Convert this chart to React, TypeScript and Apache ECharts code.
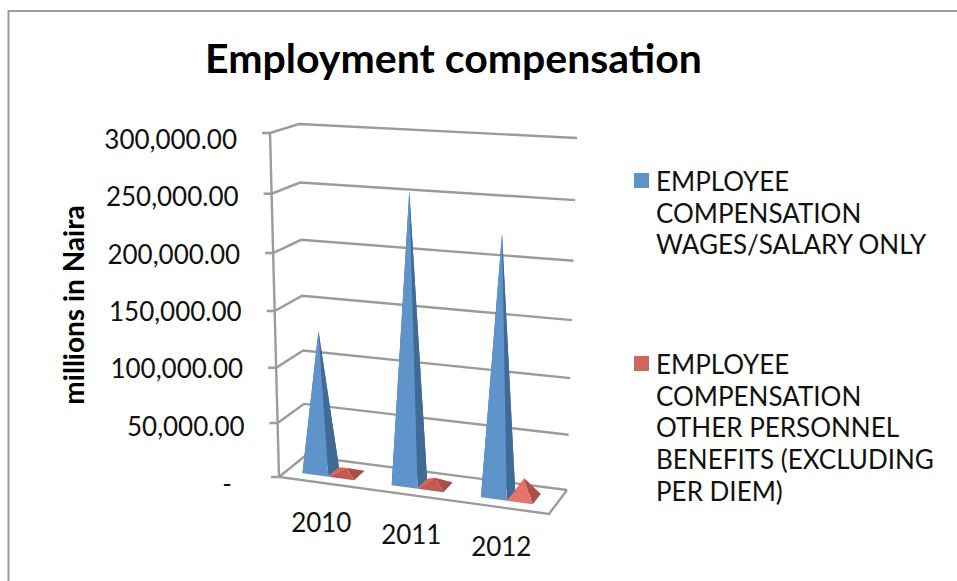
import React, { useEffect, useRef } from "react";
import * as echarts from "echarts";

const titleText = "Employment compensation";
const yAxisTitle = "millions in Naira";
const categories = ["2010", "2011", "2012"];
const wagesName = "EMPLOYEE\nCOMPENSATION\nWAGES/SALARY ONLY";
const benefitsName = "EMPLOYEE\nCOMPENSATION\nOTHER PERSONNEL\nBENEFITS (EXCLUDING\nPER DIEM)";
const wagesValues = [128000, 254000, 224500];
const benefitsValues = [5500, 7000, 17000];
const axisTicks = [0, 50000, 100000, 150000, 200000, 250000, 300000];

const FONT = "Lato";
const BLUE = { legend: "#5F94CB", front: "#5F94CB", right: "#3F6B96", back: "#3F6B96" };
const GRID_COLOR = "#9B9B9B";

// Plot rectangle of the hidden cartesian axes; their pixels are re-projected into the box.
const GRID = { left: 279, top: 133, width: 270, height: 344 };

type P = [number, number];
const BOX = {
  fl0: [279, 477] as P, fr0: [549, 514] as P, bl0: [305, 456] as P, br0: [567, 490] as P,
  fl1: [270, 133] as P, fr1: [557, 148] as P, bl1: [299, 124] as P, br1: [577, 138] as P,
};
const mix = (a: P, b: P, t: number): P => [a[0] + (b[0] - a[0]) * t, a[1] + (b[1] - a[1]) * t];

// Box position: u along the categories, d into the depth, h up the value axis.
const project = (u: number, d: number, h: number): P => {
  const hp = h * (0.93 + 0.07 * h);
  const low = mix(mix(BOX.fl0, BOX.fr0, u), mix(BOX.bl0, BOX.br0, u), d);
  const high = mix(mix(BOX.fl1, BOX.fr1, u), mix(BOX.bl1, BOX.br1, u), d);
  return mix(low, high, hp);
};

const toU = (px: number) => (px - GRID.left) / GRID.width - 0.01;
const toH = (py: number) => (GRID.top + GRID.height - py) / GRID.height;

const lineStyle = { stroke: GRID_COLOR, lineWidth: 2.4, fill: "none" };

// Four-sided pyramid standing on the floor of the box, back faces first.
const pyramid = (
  api: any,
  offset: number,
  faces: { front: string; right: string; back: string }
) => {
  const [px, py] = api.coord([api.value(0), api.value(1)]);
  const halfU = api.size([1, 0])[0] / GRID.width * 0.145;
  const c = toU(px) + offset * halfU * 1;
  const h = toH(py);
  const [d0, d1] = [0.285, 0.715];
  const a = project(c - halfU, d0, 0);
  const b = project(c + halfU, d0, 0);
  const e = project(c + halfU, d1, 0);
  const f = project(c - halfU, d1, 0);
  const tip = project(c, 0.5, h);
  const face = (pts: P[], fill: string) => ({ type: "polygon", shape: { points: pts }, style: { fill } });
  return {
    type: "group",
    children: [
      face([f, e, tip], faces.back),
      face([f, a, tip], faces.back),
      face([b, e, tip], faces.right),
      face([a, b, tip], faces.front),
    ],
  };
};

const redFaces = (value: number) =>
  value > 12000
    ? { front: "#E5736B", right: "#A94F4C", back: "#C65A54" }
    : { front: "#C5584F", right: "#A94F4A", back: "#CC625A" };

function App() {
  const ref = useRef<HTMLDivElement>(null);

  useEffect(() => {
    const chart = echarts.init(ref.current!, null, { renderer: "svg" });
    chart.setOption({
      animation: false,
      backgroundColor: "#FFFFFF",
      title: {
        text: titleText,
        left: 448.5,
        top: 32,
        textAlign: "center",
        textStyle: { fontFamily: FONT, fontSize: 41, fontWeight: "bold", color: "#000000" },
      },
      grid: { ...GRID },
      xAxis: {
        type: "category",
        data: categories,
        axisLine: { show: false },
        axisTick: { show: false },
        axisLabel: { show: false },
        splitLine: { show: false },
      },
      yAxis: {
        type: "value",
        min: 0,
        max: 300000,
        interval: 50000,
        name: yAxisTitle,
        nameLocation: "middle",
        nameRotate: 90,
        nameGap: 192,
        nameTextStyle: { fontFamily: FONT, fontSize: 28, fontWeight: "bold", color: "#000000" },
        axisLine: { show: false },
        axisTick: { show: false },
        axisLabel: { show: false },
        splitLine: { show: false },
      },
      graphic: [
        { type: "rect", shape: { x: 8.5, y: 11, width: 1000, height: 700 }, style: { fill: "none", stroke: GRID_COLOR, lineWidth: 2 } },
        { type: "rect", shape: { x: 634, y: 173, width: 15, height: 15 }, style: { fill: BLUE.legend } },
        { type: "text", x: 656, y: 165, style: { text: wagesName, font: `26px ${FONT}`, lineHeight: 31.7, fill: "#111111" } },
        { type: "rect", shape: { x: 634, y: 356, width: 15, height: 15 }, style: { fill: "#CF665F" } },
        { type: "text", x: 656, y: 348, style: { text: benefitsName, font: `26px ${FONT}`, lineHeight: 31.7, fill: "#111111" } },
      ],
      series: [
        {
          // Back walls, floor edge, value axis and its labels
          type: "custom",
          name: "frame",
          silent: true,
          data: axisTicks.map((v) => [0, v]),
          renderItem: (_: any, api: any) => {
            const value = api.value(1);
            const py = api.coord([0, value])[1];
            const h = toH(py);
            const fl = project(0, 0, h);
            const bl = project(0, 1, h);
            const br = project(1, 1, h);
            const children: any[] = [
              { type: "polyline", shape: { points: [[fl[0] - 8, fl[1]], fl, bl, br] }, style: lineStyle },
              {
                type: "text",
                style: {
                  text: value === 0 ? "-" : value.toLocaleString("en-US", { minimumFractionDigits: 2 }),
                  x: value === 0 ? fl[0] - 47 : fl[0] - 33,
                  y: py + 6,
                  align: "right",
                  verticalAlign: "middle",
                  font: `26px ${FONT}`,
                  fill: "#111111",
                },
              },
            ];
            if (value === 0) {
              children.push({
                type: "polyline",
                shape: { points: [project(0, 0, 1), fl, project(1, 0, 0), project(1, 1, 0)] },
                style: lineStyle,
              });
            }
            return { type: "group", children };
          },
        },
        {
          type: "custom",
          name: "Other personnel benefits",
          data: benefitsValues.map((v, i) => [i, v]),
          renderItem: (_: any, api: any) => pyramid(api, 1, redFaces(api.value(1))),
        },
        {
          type: "custom",
          name: "Wages and salary",
          data: wagesValues.map((v, i) => [i, v]),
          renderItem: (_: any, api: any) => pyramid(api, -1, BLUE),
        },
        {
          // Year labels below the front edge of the floor
          type: "custom",
          name: "years",
          silent: true,
          data: categories.map((_, i) => [i, 0]),
          renderItem: (params: any, api: any) => {
            const [px] = api.coord([api.value(0), 0]);
            const p = project(toU(px), 0, 0);
            return {
              type: "text",
              style: {
                text: categories[params.dataIndex],
                x: p[0],
                y: p[1] + 39,
                align: "center",
                verticalAlign: "middle",
                font: `26px ${FONT}`,
                fill: "#111111",
              },
            };
          },
        },
      ],
    });
    return () => chart.dispose();
  }, []);

  return <div ref={ref} style={{ position: "absolute", left: 0, top: 0, width: 957, height: 581 }} />;
}

export default App;
